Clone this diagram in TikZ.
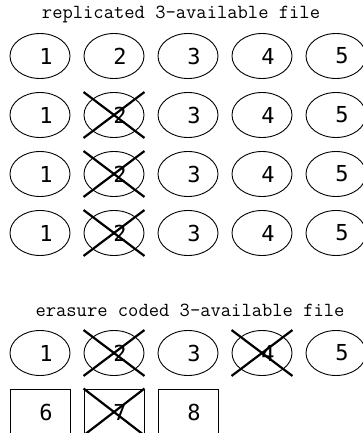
\documentclass[tikz,border=0pt]{standalone}
\usepackage{fontspec}
\newfontfamily\chiffres{DejaVu Sans Mono}
\usetikzlibrary{shapes.geometric}
\begin{document}
\begin{tikzpicture}[x=1pt,y=-1pt]
	% Styles des blocs du fichier
	\tikzset{
		bloc/.style={ellipse, draw, line width=0.9pt, minimum width=60pt, minimum height=45pt, inner sep=0pt},
		carre/.style={rectangle, draw, line width=0.9pt, minimum width=60pt, minimum height=46pt, inner sep=0pt},
		chiffre/.style={font=\chiffres\fontsize{22}{22}\selectfont, inner sep=0pt, xshift=6pt},
		croix/.style={line width=2.2pt},
		titre/.style={font=\ttfamily\fontsize{20}{20}\selectfont}
	}
	\useasboundingbox (0,0) rectangle (363,433);
	\node[titre] (titreA) at (181,14) {replicated 3-available file};
	\foreach \r/\y in {1/56, 2/115, 3/174, 4/233} {
		\foreach \i in {1,...,5} {
			\node[bloc, label={[chiffre]center:\i}] (b\r\i) at ({40+74*(\i-1)},\y) {};
		}
	}
	\foreach \r in {2,3,4} {
		\draw[croix] (b\r2.west |- b\r2.north) -- (b\r2.east |- b\r2.south);
		\draw[croix] (b\r2.west |- b\r2.south) -- (b\r2.east |- b\r2.north);
	}
	\node[titre] (titreB) at (190,310) {erasure coded 3-available file};
	\foreach \i in {1,...,5} {
		\node[bloc, label={[chiffre]center:\i}] (e\i) at ({40+74*(\i-1)},353) {};
	}
	\foreach \i/\n in {1/6, 2/7, 3/8} {
		\node[carre, label={[chiffre]center:\n}] (c\i) at ({40+74*(\i-1)},412) {};
	}
	\foreach \b in {e2, e4, c2} {
		\draw[croix] (\b.west |- \b.north) -- (\b.east |- \b.south);
		\draw[croix] (\b.west |- \b.south) -- (\b.east |- \b.north);
	}
\end{tikzpicture}
\end{document}
